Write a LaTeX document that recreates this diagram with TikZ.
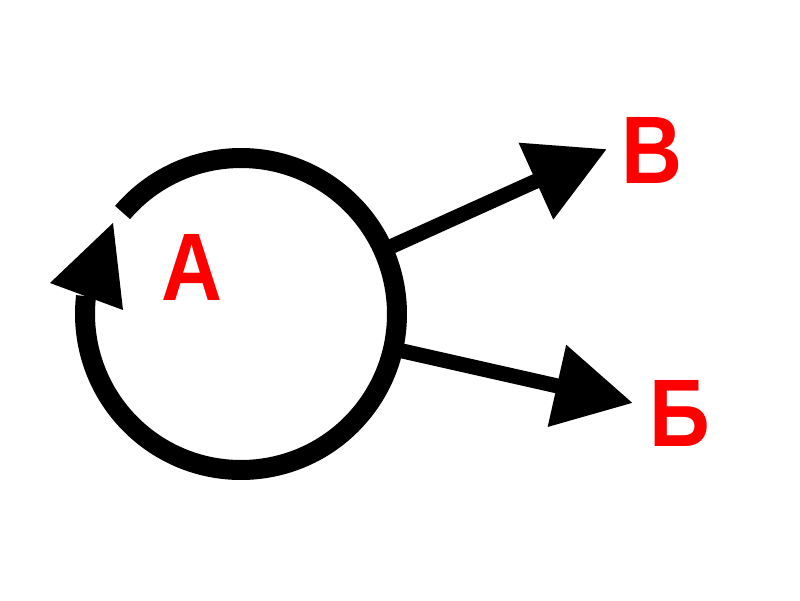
\documentclass[tikz,border=0pt]{standalone}
\usepackage{fontspec}
\setmainfont{Liberation Sans}
\usetikzlibrary{arrows.meta}
\definecolor{lblred}{RGB}{255,0,0}
\tikzset{
  lbl/.style={text=lblred, font=\fontsize{96}{96}\selectfont\bfseries, inner sep=0pt, anchor=center, xscale=0.88},
  ring/.style={line width=20, line cap=butt},
  outarrow/.style={line width=15, -{Triangle[length=78pt,width=80pt]}},
  headfill/.style={fill=black, draw=none}
}
\begin{document}
\begin{tikzpicture}[x=1pt,y=-1pt]
  \useasboundingbox (0,0) rectangle (800,600);
  \coordinate (c) at (241,314);
  % ring with gap
  \draw[ring] (c) ++(220.6:156) arc[start angle=220.6, end angle=546.6, radius=156];
  % arrowhead on the ring
  \coordinate (tipA) at (113,223);
  \fill[headfill] (tipA) -- (50,283) -- (123,310) -- cycle;
  % labels
  \node[lbl] (A) at (192,267) {А};
  \node[lbl] (V) at (652,150) {В};
  \node[lbl] (B) at (680,413) {Б};
  % outgoing arrows
  \coordinate (sV) at (388,248);
  \coordinate (eV) at (607,149);
  \coordinate (sB) at (398,350);
  \coordinate (eB) at (633,403);
  \draw[outarrow] (sV) -- (eV);
  \draw[outarrow] (sB) -- (eB);
\end{tikzpicture}
\end{document}
